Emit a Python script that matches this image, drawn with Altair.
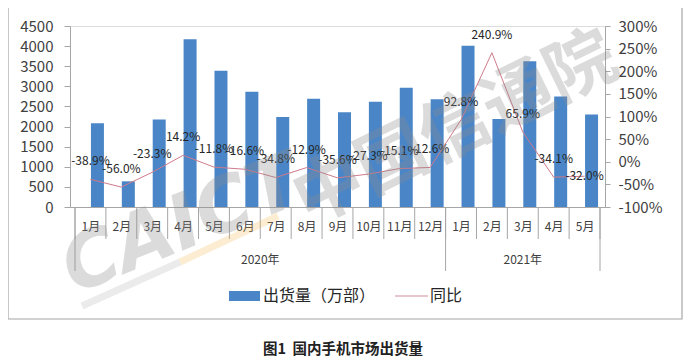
import json
import altair as alt
import pandas as pd

months = ["1月", "2月", "3月", "4月", "5月", "6月", "7月", "8月", "9月", "10月", "11月", "12月",
          "1月", "2月", "3月", "4月", "5月"]
years = ["2020年"] * 12 + ["2021年"] * 5
shipments = [2084, 638, 2177, 4173, 3385, 2866, 2240, 2693, 2356, 2616, 2964, 2678,
             4012, 2187, 3626, 2750, 2301]
yoy = [-38.9, -56.0, -23.3, 14.2, -11.8, -16.6, -34.8, -12.9, -35.6, -27.3, -15.1, -12.6,
       92.8, 240.9, 65.9, -34.1, -32.0]
left_ticks = list(range(0, 4501, 500))
right_ticks = list(range(-100, 301, 50))

FONT = "Noto Sans CJK SC"
W, H = 535, 181
BLUE = "#4a86c7"
RED = "#cf7a8a"
GRAY = "#a6a6a6"

df = pd.DataFrame({
    "idx": list(range(len(months))),
    "month": months,
    "year": years,
    "ship": shipments,
    "yoy": yoy,
    "label": [f"{v:.1f}%" for v in yoy],
})
last = len(months) - 1

# separators between months (band edges) and between years
sep_all = pd.DataFrame({"pos": [i - 0.5 for i in range(len(months) + 1)]})
year_edges = [-0.5] + [i - 0.5 for i in range(1, len(years)) if years[i] != years[i - 1]] + [len(years) - 0.5]
sep_year = pd.DataFrame({"pos": year_edges})
year_mid = df.groupby("year", as_index=False)["idx"].mean()

xscale = alt.Scale(domain=[-0.5, len(months) - 0.5], nice=False, zero=False)
xaxis = alt.Axis(
    values=list(range(len(months))),
    labelExpr=json.dumps(months, ensure_ascii=False) + "[datum.value]",
    title=None, grid=False, ticks=False, domainColor=GRAY,
    labelFontSize=12, labelColor="#404040", labelPadding=14, labelFont=FONT,
)

def X(field):
    return alt.X(f"{field}:Q", scale=xscale, axis=xaxis)

bars = alt.Chart(df).mark_bar(color=BLUE, size=13, xOffset=7).encode(
    x=X("idx"),
    y=alt.Y("ship:Q", scale=alt.Scale(domain=[0, 4500], nice=False),
            axis=alt.Axis(values=left_ticks, format="d", title=None, grid=False, domainColor=GRAY,
                          tickColor=GRAY, tickSize=6, labelPadding=11, labelFontSize=15,
                          labelColor="#404040", labelFont=FONT)),
)

yr = alt.Y("yoy:Q", scale=alt.Scale(domain=[-100, 300], nice=False),
           axis=alt.Axis(values=right_ticks, orient="right", title=None, grid=False,
                         domainColor=GRAY, tickColor=GRAY, tickSize=5, labelPadding=8,
                         labelFontSize=15, labelColor="#404040", labelFont=FONT,
                         labelExpr="datum.value + '%'"))

line = alt.Chart(df).mark_line(color=RED, strokeWidth=1).encode(x=X("idx"), y=yr)
labels = alt.Chart(df).transform_filter(f"datum.idx < {last}").mark_text(
    dy=-18, fontSize=12, color="#262626", font=FONT).encode(x=X("idx"), y=yr, text="label:N")
labels_last = alt.Chart(df).transform_filter(f"datum.idx == {last}").mark_text(
    dy=0, fontSize=12, color="#262626", font=FONT).encode(x=X("idx"), y=yr, text="label:N")
right = alt.layer(line, labels, labels_last)

seps = alt.Chart(sep_all).mark_rule(color=GRAY, strokeWidth=1).encode(
    x=X("pos"), y=alt.value(H), y2=alt.value(H + 32))
seps_long = alt.Chart(sep_year).mark_rule(color=GRAY, strokeWidth=1).encode(
    x=X("pos"), y=alt.value(H), y2=alt.value(H + 64))
year_text = alt.Chart(year_mid).mark_text(fontSize=12, color="#404040", font=FONT, baseline="middle").encode(
    x=X("idx"), y=alt.value(H + 53), text="year:N")

one = pd.DataFrame({"a": [0]})
border = alt.Chart(one).mark_rect(fillOpacity=0, stroke=GRAY, strokeWidth=1.2).encode(
    x=alt.value(-62), x2=alt.value(612), y=alt.value(-19), y2=alt.value(293))
leg_bar = alt.Chart(one).mark_rect(color=BLUE).encode(
    x=alt.value(159), x2=alt.value(190), y=alt.value(265), y2=alt.value(275))
leg_bar_t = alt.Chart(one).mark_text(align="left", baseline="middle", fontSize=16, color="#262626", font=FONT).encode(
    x=alt.value(193), y=alt.value(270), text=alt.value("出货量（万部）"))
leg_line = alt.Chart(one).mark_rule(color="#e2b3bc", strokeWidth=1.5).encode(
    x=alt.value(325), x2=alt.value(358), y=alt.value(270))
leg_line_t = alt.Chart(one).mark_text(align="left", baseline="middle", fontSize=16, color="#262626", font=FONT).encode(
    x=alt.value(360), y=alt.value(270), text=alt.value("同比"))
title = alt.Chart(one).mark_text(align="center", baseline="middle", fontSize=14.5, fontWeight="bold",
                                 color="#222222", font=FONT).encode(
    x=alt.value(273), y=alt.value(324), text=alt.value("图1\u00a0\u00a0国内手机市场出货量"))

# semi-transparent watermark of the source image
wm_latin = alt.Chart(one).mark_text(align="center", baseline="middle", fontSize=76, fontWeight="bold",
                                    fontStyle="italic", angle=338, color="#8c8c8c", opacity=0.3,
                                    font="DejaVu Sans").encode(
    x=alt.value(112), y=alt.value(200), text=alt.value("CAICT"))
wm_stripe_g = alt.Chart(one).mark_rule(color="#9a9a9a", opacity=0.2, strokeWidth=7).encode(
    x=alt.value(12), x2=alt.value(110), y=alt.value(280), y2=alt.value(236))
wm_stripe_o = alt.Chart(one).mark_rule(color="#f2b24a", opacity=0.25, strokeWidth=7).encode(
    x=alt.value(110), x2=alt.value(208), y=alt.value(236), y2=alt.value(190))
wm_cn = alt.Chart(one).mark_text(align="center", baseline="middle", fontSize=70, fontWeight="bold",
                                 angle=334, color="#8c8c8c", opacity=0.3, font=FONT).encode(
    x=alt.value(386), y=alt.value(104), text=alt.value("中国信通院"))

chart = alt.layer(
    border, bars, right, seps, seps_long, year_text, leg_bar, leg_bar_t, leg_line, leg_line_t, title,
    wm_stripe_g, wm_stripe_o, wm_latin, wm_cn
).resolve_scale(y="independent").properties(
    width=W, height=H,
    autosize=alt.AutoSizeParams(type="none"),
    padding={"left": 62, "top": 18, "right": 79, "bottom": 152},
).configure_view(stroke=None).configure(font=FONT)

chart.save("out.html", embed_options={"renderer": "svg", "actions": False})
